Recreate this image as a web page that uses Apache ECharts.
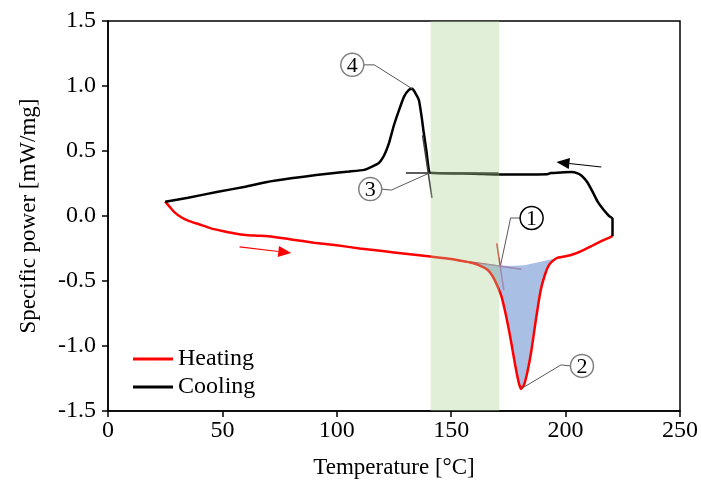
<!DOCTYPE html>
<html>
<head>
<meta charset="utf-8">
<script src="https://cdn.jsdelivr.net/npm/echarts@6/dist/echarts.min.js"></script>
<style>
  html, body { margin: 0; padding: 0; background: #fff; }
  #chart { width: 701px; height: 492px; }
</style>
</head>
<body>
<div id="chart"></div>
<script>
// DSC scan: specific power vs temperature, heating and cooling runs
const xTicks = [0, 50, 100, 150, 200, 250];
const yTicks = [-1.5, -1.0, -0.5, 0.0, 0.5, 1.0, 1.5];

const heating = [
  [25, 0.11], [27, 0.07], [29, 0.03], [32, -0.01], [35, -0.035], [40, -0.065],
  [45, -0.095], [50, -0.115], [55, -0.132], [60, -0.146], [65, -0.151], [70, -0.155],
  [80, -0.18], [90, -0.205], [100, -0.225], [110, -0.25], [120, -0.27], [130, -0.29],
  [140, -0.31], [150, -0.33], [156, -0.35], [160, -0.365], [163, -0.385], [166, -0.415],
  [168, -0.46], [170, -0.53], [172, -0.62], [174, -0.77], [176, -0.95], [178, -1.15],
  [179.5, -1.28], [180.5, -1.33], [181.8, -1.30], [183.3, -1.20], [185, -1.04],
  [187, -0.80], [189, -0.58], [191, -0.45], [193, -0.37], [196, -0.325], [200, -0.31],
  [204, -0.29], [208, -0.26], [212, -0.225], [216, -0.19], [220.5, -0.155]
];

const cooling = [
  [220.5, -0.155], [220.5, -0.02], [219, 0.0], [216.5, 0.05], [214, 0.11], [212, 0.18],
  [209.5, 0.26], [207, 0.31], [205, 0.33], [202.5, 0.338], [198, 0.335], [193.5, 0.33],
  [192, 0.322], [180, 0.32], [170, 0.32], [160, 0.325], [150, 0.327], [142, 0.33],
  [140.6, 0.335], [140, 0.38], [139.1, 0.51], [138, 0.64], [137.1, 0.76], [135.9, 0.89],
  [134.4, 0.944], [133, 0.978], [131.5, 0.97], [129.4, 0.918], [127.2, 0.815], [125, 0.70],
  [122.8, 0.56], [121.4, 0.495], [120, 0.445], [118.5, 0.41], [115.4, 0.38], [112, 0.355],
  [105.4, 0.342], [101, 0.335], [91, 0.315], [80, 0.29], [69, 0.26], [60, 0.225],
  [47.5, 0.185], [35, 0.14], [25, 0.11]
];

// upper bound of the shaded melting-enthalpy region
const fillBase = [
  [158, -0.355], [165, -0.368], [171, -0.378], [176, -0.385], [182, -0.378],
  [188, -0.355], [192, -0.34], [196, -0.325]
];

// tangent constructions (onset points)
const tangentCoolFlat = [[130.2, 0.33], [170.7, 0.33]];
const tangentCoolSteep = [[137.5, 0.62], [141.6, 0.14]];
const tangentHeatSteep = [[169.9, -0.21], [173.0, -0.57]];
const tangentHeatFlat = [[153, -0.34], [180.7, -0.41]];

// processing window
const band = [[141, 171]];

// callout anchors: [temperature, power, label]
const callouts = [
  [171.6, -0.377, '1'],
  [180.5, -1.33, '2'],
  [140.4, 0.33, '3'],
  [133, 0.978, '4']
];

// direction arrows: [x1, y1, x2, y2]
const arrows = [
  [57.5, -0.238, 80.1, -0.285, '#ff0000'],
  [215.6, 0.377, 196.0, 0.415, '#000000']
];

const serif = "'Liberation Serif', 'Times New Roman', serif";

// pixel offsets for the leader line elbow and the circle centre
const calloutLayout = {
  '1': { elbow: [10, -47], center: [31, -47], stroke: '#000000' },
  '2': { elbow: [40, -24], center: [61, -23], stroke: '#7f7f7f' },
  '3': { elbow: [-38, 17], center: [-59, 16], stroke: '#7f7f7f' },
  '4': { elbow: [-38, -24], center: [-60, -24], stroke: '#7f7f7f' }
};

const chart = echarts.init(document.getElementById('chart'), null, { renderer: 'canvas' });

function segment(name, data, color, z) {
  return {
    name: name, type: 'line', data: data, symbol: 'none', z: z,
    lineStyle: { color: color, width: 1.5 }, silent: true, animation: false
  };
}

const option = {
  animation: false,
  backgroundColor: '#ffffff',
  grid: {
    left: 108, right: 19, top: 21, bottom: 81,
    show: true, borderColor: '#000000', borderWidth: 1.5, containLabel: false
  },
  legend: {
    data: ['Heating', 'Cooling'],
    orient: 'vertical',
    left: 128, top: 342,
    icon: 'rect', itemWidth: 40, itemHeight: 3, itemGap: 4,
    textStyle: { fontFamily: serif, fontSize: 24, color: '#000000', padding: [0, 0, 0, 0] },
    selectedMode: false
  },
  xAxis: {
    type: 'value', min: xTicks[0], max: xTicks[xTicks.length - 1], interval: 50,
    name: 'Temperature [°C]', nameLocation: 'middle', nameGap: 45,
    nameTextStyle: { fontFamily: serif, fontSize: 23, color: '#000000' },
    axisLine: { onZero: false, lineStyle: { color: '#000000', width: 1.5 } },
    axisTick: { show: true, inside: false, length: 6, lineStyle: { color: '#000000', width: 1.5 } },
    axisLabel: { fontFamily: serif, fontSize: 24, color: '#000000', margin: 8 },
    splitLine: { show: false }
  },
  yAxis: {
    type: 'value', min: yTicks[0], max: yTicks[yTicks.length - 1], interval: 0.5,
    name: 'Specific power [mW/mg]', nameLocation: 'middle', nameGap: 68,
    nameTextStyle: { fontFamily: serif, fontSize: 23, color: '#000000' },
    axisLine: { onZero: false, lineStyle: { color: '#000000', width: 1.5 } },
    axisTick: { show: true, inside: false, length: 6, lineStyle: { color: '#000000', width: 1.5 } },
    axisLabel: { fontFamily: serif, fontSize: 24, color: '#000000', margin: 12,
      formatter: v => v.toFixed(1) },
    splitLine: { show: false }
  },
  series: [
    segment('tHeatSteep', tangentHeatSteep, '#e0302a', 1),
    segment('tHeatFlat', tangentHeatFlat, '#c02040', 1),
    {
      name: 'enthalpy', type: 'custom', z: 2, silent: true, data: [[0, 0]],
      renderItem: function (params, api) {
        const lo = fillBase[0][0], hi = fillBase[fillBase.length - 1][0];
        const pts = fillBase.map(p => api.coord(p));
        const curve = heating.filter(p => p[0] >= lo && p[0] <= hi).reverse();
        curve.forEach(p => pts.push(api.coord(p)));
        return { type: 'polygon', shape: { points: pts },
          style: { fill: 'rgba(142,169,219,0.75)' } };
      }
    },
    {
      name: 'Heating', type: 'line', data: heating, symbol: 'none', smooth: 0.2, z: 3,
      lineStyle: { color: '#ff0000', width: 2.5 }, itemStyle: { color: '#ff0000' }
    },
    {
      name: 'Cooling', type: 'line', data: cooling, symbol: 'none', smooth: 0.15, z: 3,
      lineStyle: { color: '#000000', width: 2.5 }, itemStyle: { color: '#000000' }
    },
    segment('tCoolFlat', tangentCoolFlat, '#262626', 3),
    segment('tCoolSteep', tangentCoolSteep, '#404040', 3),
    {
      name: 'window', type: 'custom', z: 4, silent: true, data: band,
      renderItem: function (params, api) {
        const a = api.coord([api.value(0), yTicks[yTicks.length - 1]]);
        const b = api.coord([api.value(1), yTicks[0]]);
        return { type: 'rect', shape: { x: a[0], y: a[1], width: b[0] - a[0], height: b[1] - a[1] },
          style: { fill: 'rgba(169,208,142,0.35)' } };
      }
    },
    {
      name: 'callouts', type: 'custom', z: 5, silent: true, data: callouts,
      renderItem: function (params, api) {
        const label = callouts[params.dataIndex][2];
        const lay = calloutLayout[label];
        const p = api.coord([api.value(0), api.value(1)]);
        const e = [p[0] + lay.elbow[0], p[1] + lay.elbow[1]];
        const c = [p[0] + lay.center[0], p[1] + lay.center[1]];
        const r = 11.5;
        const edge = [c[0] + (lay.center[0] > lay.elbow[0] ? -r : r), c[1]];
        return { type: 'group', children: [
          { type: 'polyline', shape: { points: [p, e, edge] },
            style: { stroke: '#595959', lineWidth: 1, fill: null } },
          { type: 'circle', shape: { cx: c[0], cy: c[1], r: r },
            style: { stroke: lay.stroke, lineWidth: 1.5, fill: '#ffffff' } },
          { type: 'text', x: c[0], y: c[1] + 1,
            style: { text: label, fontFamily: serif, fontSize: 22, fill: '#000000',
              align: 'center', verticalAlign: 'middle' } }
        ] };
      }
    },
    {
      name: 'arrows', type: 'custom', z: 5, silent: true, data: arrows.map(a => a.slice(0, 4)),
      renderItem: function (params, api) {
        const color = arrows[params.dataIndex][4];
        const s = api.coord([api.value(0), api.value(1)]);
        const t = api.coord([api.value(2), api.value(3)]);
        const dx = t[0] - s[0], dy = t[1] - s[1];
        const len = Math.sqrt(dx * dx + dy * dy);
        const ux = dx / len, uy = dy / len;
        const hl = 13, hw = 5.5;
        const base = [t[0] - ux * hl, t[1] - uy * hl];
        return { type: 'group', children: [
          { type: 'line', shape: { x1: s[0], y1: s[1], x2: base[0], y2: base[1] },
            style: { stroke: color, lineWidth: 1.2 } },
          { type: 'polygon', shape: { points: [t,
              [base[0] - uy * hw, base[1] + ux * hw],
              [base[0] + uy * hw, base[1] - ux * hw]] },
            style: { fill: color } }
        ] };
      }
    }
  ]
};

chart.setOption(option);
</script>
</body>
</html>
